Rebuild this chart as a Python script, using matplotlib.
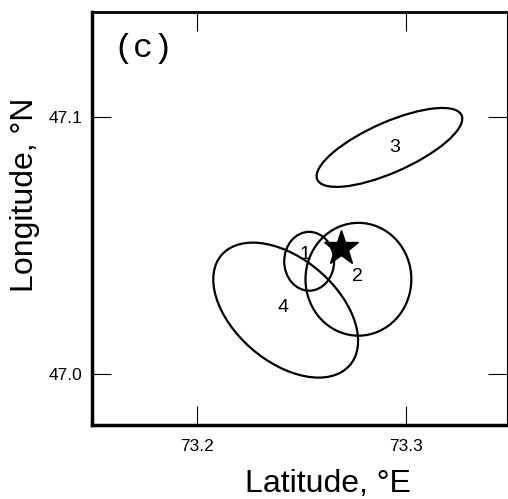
import matplotlib
matplotlib.use("Agg")
import matplotlib.pyplot as plt
from matplotlib.patches import Ellipse

plt.rcParams['font.family'] = ['Liberation Sans', 'DejaVu Sans']

# error ellipses (lon, lat centre; width, height in degrees; angle)
labels = ["1", "2", "3", "4"]
centre_lon = [73.2536, 73.2771, 73.2919, 73.2424]
centre_lat = [47.0437, 47.0367, 47.0880, 47.0247]
widths = [0.0238, 0.0505, 0.0733, 0.0755]
heights = [0.0229, 0.0439, 0.0200, 0.0428]
angles = [0.0, 0.0, 19.3, -29.3]
label_lon = [73.2514, 73.2767, 73.2943, 73.2410]
label_lat = [47.0462, 47.0377, 47.0878, 47.0257]

# epicentre (star)
star_lon = [73.2688]
star_lat = [47.0488]

xticks = [73.2, 73.3]
yticks = [47.0, 47.1]

fig = plt.figure(figsize=(5.08, 4.99), dpi=100)
ax = fig.add_axes([0.1811, 0.1483, 0.817, 0.8277])

for i in range(len(labels)):
    e = Ellipse((centre_lon[i], centre_lat[i]), widths[i], heights[i], angle=angles[i],
                fill=False, edgecolor='black', linewidth=1.6)
    ax.add_patch(e)
    ax.text(label_lon[i], label_lat[i], labels[i], fontsize=14, ha='center', va='center')

ax.plot(star_lon, star_lat, marker='*', markersize=26, color='black', linestyle='none')

ax.set_xlim(73.15, 73.348)
ax.set_ylim(46.980, 47.1407)
ax.set_xticks(xticks)
ax.set_xticklabels([f"{v:.1f}" for v in xticks])
ax.set_yticks(yticks)
ax.set_yticklabels([f"{v:.1f}" for v in yticks])
ax.tick_params(direction='in', length=14, width=0.8, top=True, right=True,
               labelsize=12.5)
ax.tick_params(axis='x', pad=10)
ax.tick_params(axis='y', pad=7)

ax.spines['left'].set_linewidth(2.5)
ax.spines['bottom'].set_linewidth(2.5)
ax.spines['top'].set_linewidth(2.0)
ax.spines['right'].set_linewidth(0.8)

ax.text(143 / 413 - 92 / 413, 1 - 37 / 413, "(c)", transform=ax.transAxes,
        fontsize=24, family='Liberation Mono', ha='center', va='center')

fig.text(328 / 508, 1 - 484 / 499, "Latitude, °E", fontsize=23, ha='center', va='center')
fig.text(25 / 508, 1 - 195 / 499, "Longitude, °N", fontsize=23, ha='center', va='center',
         rotation=90)

fig.savefig("out.png", dpi=100)
